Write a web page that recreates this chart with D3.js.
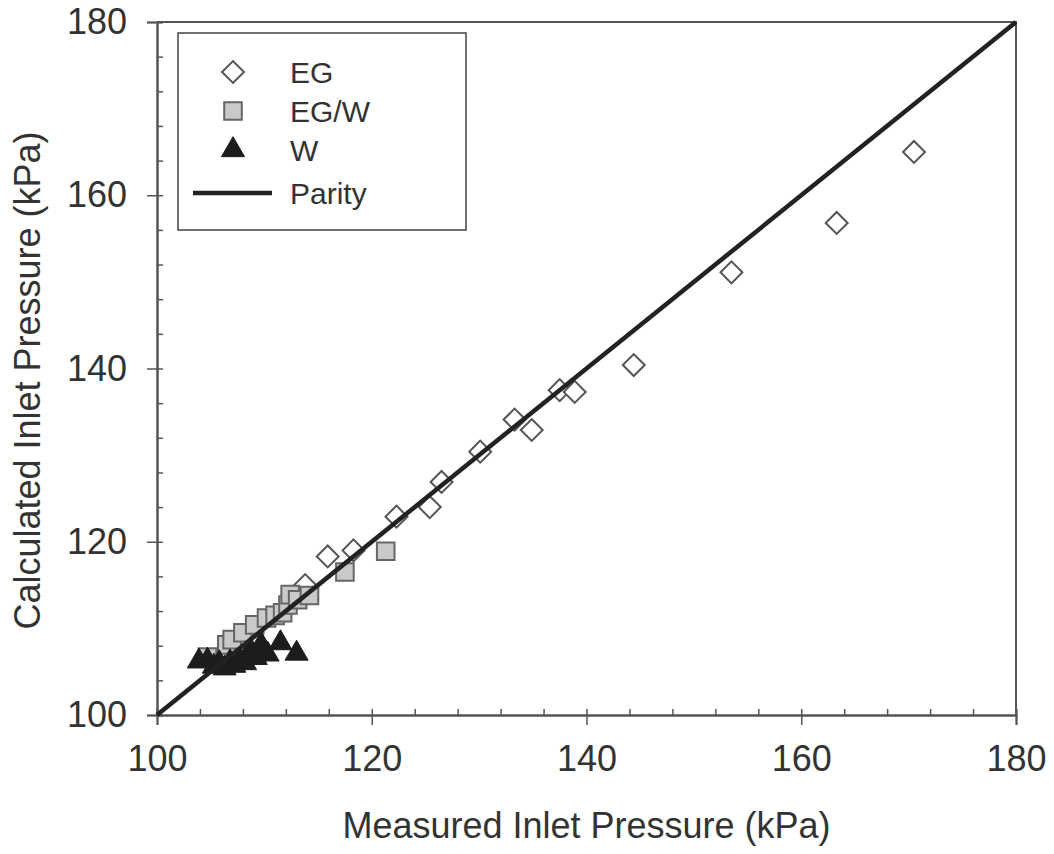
<!DOCTYPE html>
<html lang="en">
<head>
    <meta charset="UTF-8">
    <title>Inlet Pressure Parity</title>
    <script src="https://cdn.jsdelivr.net/npm/d3@7"></script>
    <style>
        body { margin: 0; background: #fff; }
        text { font-family: "Liberation Sans", Arial, sans-serif; fill: #333; }
    </style>
</head>
<body>
<div id="chart"></div>

<script>

    // data (kPa)
    var egMeasured   = [113.8, 115.9, 118.3, 122.3, 125.4, 126.5, 130.1, 133.3, 134.9, 137.5, 138.9, 144.4, 153.5, 163.3, 170.5];
    var egCalculated = [115.0, 118.3, 119.0, 122.9, 124.0, 126.9, 130.4, 134.1, 132.9, 137.5, 137.3, 140.4, 151.1, 156.8, 165.0];

    var egwMeasured   = [104.7, 106.5, 107.0, 108.0, 109.1, 110.2, 111.0, 111.7, 112.2, 112.4, 113.1, 114.2, 117.5, 121.3];
    var egwCalculated = [106.7, 108.1, 108.7, 109.5, 110.4, 111.2, 111.5, 111.8, 112.7, 113.9, 113.3, 113.8, 116.5, 118.9];

    var wMeasured   = [103.9, 104.7, 105.3, 105.8, 106.3, 106.8, 107.2, 107.7, 108.2, 108.7, 109.2, 109.7, 110.3, 111.5, 113.0];
    var wCalculated = [106.2, 106.3, 105.6, 106.0, 105.4, 106.1, 105.7, 106.4, 106.0, 107.5, 106.6, 108.1, 107.0, 108.3, 107.1];

    var parity = [100, 180];
    var majorTicks = [100, 120, 140, 160, 180];
    var legendLabels = ["EG", "EG/W", "W", "Parity"];

    var width = 1054;
    var height = 854;
    var margin = {top: 22, left: 157, right: 38, bottom: 139};
    var w = width - margin.left - margin.right;
    var h = height - margin.top - margin.bottom;

    var svg = d3.select("#chart")
        .append("svg")
        .attr("width", width)
        .attr("height", height);

    var g = svg.append("g")
        .attr("transform", "translate(" + margin.left + "," + margin.top + ")");

    var x = d3.scaleLinear().domain([100, 180]).range([0, w]);
    var y = d3.scaleLinear().domain([100, 180]).range([h, 0]);

    var minorTicks = d3.range(100, 180.1, 4);
    var axisColor = "#555";

    // minor ticks point inward, major ticks outward
    var xMinor = g.append("g")
        .attr("transform", "translate(0," + h + ")")
        .call(d3.axisTop(x).tickValues(minorTicks).tickSize(6).tickFormat(""));
    var xMajor = g.append("g")
        .attr("transform", "translate(0," + h + ")")
        .call(d3.axisBottom(x).tickValues(majorTicks).tickSize(10).tickPadding(20).tickFormat(d3.format("d")));
    var yMinor = g.append("g")
        .call(d3.axisRight(y).tickValues(minorTicks).tickSize(6).tickFormat(""));
    var yMajor = g.append("g")
        .call(d3.axisLeft(y).tickValues(majorTicks).tickSize(10).tickPadding(20).tickFormat(d3.format("d")));

    [xMinor, xMajor, yMinor, yMajor].forEach(function (a) {
        a.select(".domain").attr("stroke", axisColor).attr("stroke-width", 2);
        a.selectAll(".tick line").attr("stroke", axisColor).attr("stroke-width", 1.5);
        a.selectAll(".tick text").style("font-size", "36px").attr("fill", "#333");
    });

    // top and right frame
    g.append("path")
        .attr("d", "M0,0H" + w + "V" + h)
        .attr("fill", "none")
        .attr("stroke", axisColor)
        .attr("stroke-width", 2);

    // axis titles
    svg.append("text")
        .attr("x", margin.left + w / 2)
        .attr("y", 838)
        .attr("text-anchor", "middle")
        .style("font-size", "36px")
        .text("Measured Inlet Pressure (kPa)");

    svg.append("text")
        .attr("transform", "translate(40," + (margin.top + h / 2 + 12) + ") rotate(-90)")
        .attr("text-anchor", "middle")
        .style("font-size", "36px")
        .text("Calculated Inlet Pressure (kPa)");

    // markers
    var diamond = d3.symbol().type(d3.symbolSquare).size(240);
    var square = d3.symbol().type(d3.symbolSquare).size(310);
    var triangle = d3.symbol().type(d3.symbolTriangle).size(230);

    function pairs(xs, ys) {
        return xs.map(function (v, i) { return [v, ys[i]]; });
    }

    g.selectAll(".eg")
        .data(pairs(egMeasured, egCalculated))
        .enter().append("path")
        .attr("class", "eg")
        .attr("d", diamond)
        .attr("transform", function (d) { return "translate(" + x(d[0]) + "," + y(d[1]) + ") rotate(45)"; })
        .attr("fill", "#fff")
        .attr("stroke", "#555")
        .attr("stroke-width", 2);

    g.selectAll(".egw")
        .data(pairs(egwMeasured, egwCalculated))
        .enter().append("path")
        .attr("class", "egw")
        .attr("d", square)
        .attr("transform", function (d) { return "translate(" + x(d[0]) + "," + y(d[1]) + ")"; })
        .attr("fill", "#c9c9c9")
        .attr("stroke", "#666")
        .attr("stroke-width", 2);

    g.selectAll(".w")
        .data(pairs(wMeasured, wCalculated))
        .enter().append("path")
        .attr("class", "w")
        .attr("d", triangle)
        .attr("transform", function (d) { return "translate(" + x(d[0]) + "," + y(d[1]) + ")"; })
        .attr("fill", "#1c1c1c")
        .attr("stroke", "#1c1c1c")
        .attr("stroke-width", 1);

    // parity line
    g.append("line")
        .attr("x1", x(parity[0])).attr("y1", y(parity[0]))
        .attr("x2", x(parity[1])).attr("y2", y(parity[1]))
        .attr("stroke", "#222")
        .attr("stroke-width", 4.5);

    // legend
    var legend = svg.append("g").attr("transform", "translate(178,33)");
    legend.append("rect")
        .attr("width", 288).attr("height", 197)
        .attr("fill", "#fff")
        .attr("stroke", "#444")
        .attr("stroke-width", 1.5);

    var rowY = [39, 78, 117, 160];
    var items = legend.selectAll(".item")
        .data(legendLabels)
        .enter().append("g")
        .attr("transform", function (d, i) { return "translate(0," + rowY[i] + ")"; });

    items.append("text")
        .attr("x", 112)
        .attr("dy", "0.36em")
        .style("font-size", "30px")
        .text(function (d) { return d; });

    items.filter(function (d, i) { return i === 0; }).append("path")
        .attr("d", diamond)
        .attr("transform", "translate(55,0) rotate(45)")
        .attr("fill", "#fff").attr("stroke", "#555").attr("stroke-width", 2);
    items.filter(function (d, i) { return i === 1; }).append("path")
        .attr("d", square)
        .attr("transform", "translate(55,0)")
        .attr("fill", "#c9c9c9").attr("stroke", "#666").attr("stroke-width", 2);
    items.filter(function (d, i) { return i === 2; }).append("path")
        .attr("d", triangle)
        .attr("transform", "translate(55,0)")
        .attr("fill", "#1c1c1c").attr("stroke", "#1c1c1c");
    items.filter(function (d, i) { return i === 3; }).append("line")
        .attr("x1", 15).attr("x2", 94)
        .attr("stroke", "#222").attr("stroke-width", 4.5);

</script>
</body>
</html>
